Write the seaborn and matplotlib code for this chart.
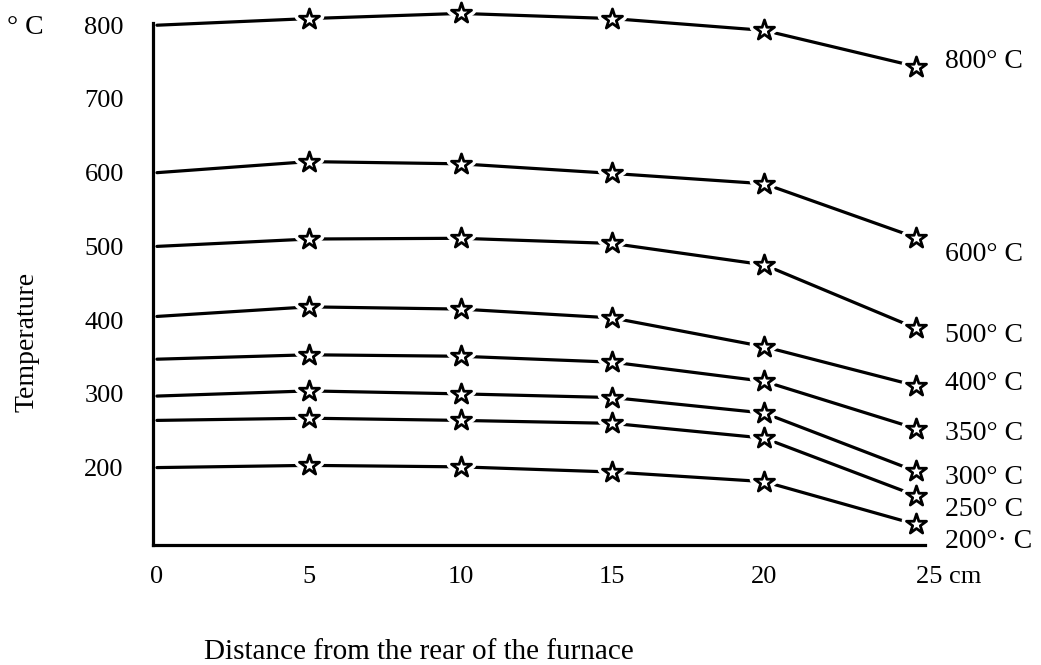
import matplotlib
matplotlib.use("Agg")
import matplotlib.pyplot as plt
import seaborn as sns
import pandas as pd

# ---- data ----
distance = [0, 5, 10, 15, 20, 25]
t800 = [800, 809, 816, 809, 793, 744]
t600 = [600, 615, 612, 599, 585, 512]
t500 = [500, 510, 511, 504, 475, 389]
t400 = [405, 418, 415, 403, 364, 311]
t350 = [347, 353, 351, 343, 317, 253]
t300 = [297, 304, 300, 295, 274, 195]
t250 = [264, 267, 264, 260, 240, 162]
t200 = [200, 203, 201, 194, 181, 123]
series_names = ["800° C", "600° C", "500° C", "400° C", "350° C", "300° C", "250° C", "200°· C"]
yticks = [200, 300, 400, 500, 600, 700, 800]
xticks = [0, 5, 10, 15, 20, 25]
xticklabels = ["0", "5", "10", "15", "20", "25 cm"]

all_series = [t800, t600, t500, t400, t350, t300, t250, t200]
rows = []
for name, vals in zip(series_names, all_series):
    for d, v in zip(distance, vals):
        rows.append({"series": name, "distance": d, "temp": v})
df = pd.DataFrame(rows)
stars = df[df["distance"] > 0]

sns.set_theme(style="white")
plt.rcParams["font.family"] = ["Liberation Serif", "DejaVu Serif"]

W, H = 1041, 665
fig = plt.figure(figsize=(W / 100, H / 100), dpi=100)
ax = fig.add_axes([153 / W, 1 - 545 / H, (925 - 153) / W, (545 - 23) / H])

black = {n: "black" for n in series_names}
sns.lineplot(data=df, x="distance", y="temp", hue="series", palette=black,
             estimator=None, sort=False, legend=False, linewidth=2.3,
             ax=ax, clip_on=False, zorder=2)
# white halo to give the small gaps around the hand-drawn stars
sns.scatterplot(data=stars, x="distance", y="temp", marker="*", s=230,
                color="white", edgecolor="white", linewidth=7,
                legend=False, ax=ax, clip_on=False, zorder=3)
sns.scatterplot(data=stars, x="distance", y="temp", marker="*", s=230,
                color="white", edgecolor="black", linewidth=2.0,
                legend=False, ax=ax, clip_on=False, zorder=4)

ax.set_xlim(-0.13, 25.3)
ax.set_ylim(95, 803)
ax.set_xticks(xticks)
ax.set_xticklabels(xticklabels)
ax.set_yticks(yticks)
ax.set_yticklabels([str(v) for v in yticks])
ax.set_xlabel("")
ax.set_ylabel("")
for lab in ax.get_xticklabels():
    if "cm" in lab.get_text():
        lab.set_horizontalalignment("left")

ax.tick_params(axis="x", direction="in", length=5, width=1.8, color="black",
               labelsize=19, pad=15, labelcolor="black")
ax.tick_params(axis="y", direction="in", length=4, width=1.8, color="black",
               labelsize=19, pad=21, labelcolor="black")
for side in ["top", "right"]:
    ax.spines[side].set_visible(False)
for side in ["left", "bottom"]:
    ax.spines[side].set_color("black")
    ax.spines[side].set_linewidth(2.3)

# series labels at right
label_y_px = [62, 255, 335, 383, 433, 477, 510, 542]
for name, ypx in zip(series_names, label_y_px):
    fig.text(945 / W, 1 - ypx / H, name, ha="left", va="center", fontsize=20, color="black")

fig.text(7 / W, 1 - 27 / H, "° C", ha="left", va="center", fontsize=20, color="black")
fig.text(27 / W, 1 - 342 / H, "Temperature", ha="center", va="center",
         rotation=90, fontsize=20, color="black")
fig.text(419 / W, 1 - 652 / H, "Distance from the rear of the furnace",
         ha="center", va="center", fontsize=21, color="black")

fig.savefig("out.png", dpi=100, facecolor="white")
